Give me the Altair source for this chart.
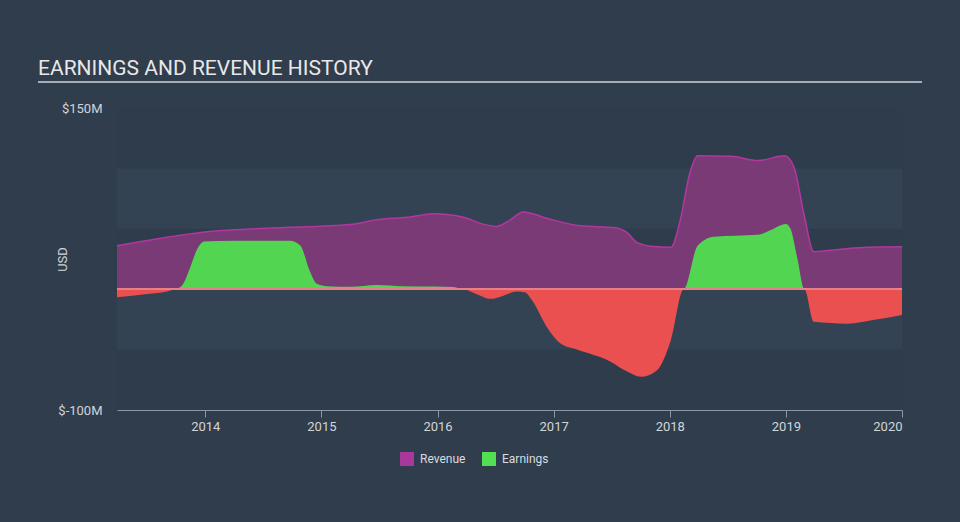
import altair as alt
import pandas as pd

# ---- data ----
title_text = "EARNINGS AND REVENUE HISTORY"
series = ["Revenue", "Earnings"]

rev_years = [2013.24, 2013.67, 2013.96, 2014.53, 2015.25, 2015.48, 2015.74, 2015.97,
             2016.15, 2016.26, 2016.37, 2016.51, 2016.62, 2016.74, 2016.94, 2017.23,
             2017.52, 2017.63, 2017.72, 2017.86, 2018.01, 2018.09, 2018.17, 2018.24,
             2018.53, 2018.76, 2018.99, 2019.07, 2019.16, 2019.24, 2019.47, 2019.70, 2020.0]
rev_values = [36, 43, 47, 50.5, 53.5, 57.5, 59.5, 62.5,
              61, 58.5, 54.5, 52, 57, 64, 58.7, 52.5,
              51, 47, 38.5, 35.3, 34.7, 57, 95, 110.5,
              110, 106.5, 110.5, 101, 60, 31, 33, 34.8, 35.2]

earn_years = [2013.24, 2013.50, 2013.67, 2013.74, 2013.80, 2013.87, 2013.93, 2013.99,
              2014.10, 2014.73, 2014.82, 2014.90, 2014.96, 2015.05, 2015.25, 2015.48,
              2015.70, 2015.97, 2016.14, 2016.22, 2016.30, 2016.46, 2016.55, 2016.68,
              2016.75, 2016.82, 2016.94, 2017.06, 2017.20, 2017.49, 2017.63, 2017.75,
              2017.89, 2018.01, 2018.12, 2018.24, 2018.38, 2018.76, 2018.87, 2019.00,
              2019.04, 2019.10, 2019.16, 2019.24, 2019.53, 2019.75, 2020.0]
earn_values = [-6.7, -4, -2, 0, 3, 18, 33, 39.5,
               40, 40.2, 36, 15, 4.5, 2.5, 2, 3.5,
               2.5, 2.2, 1.8, 0, -2.5, -8, -6, -2,
               -2.5, -10, -31, -45, -50, -60, -68, -72.5,
               -67, -42, 0, 36, 43.5, 45, 49, 54,
               50, 25, 0, -27, -28.5, -25.5, -21.3]

year_ticks = [2014, 2015, 2016, 2017, 2018, 2019, 2020]
y_ticks = [-100, 150]
band_low = [100, 0, -100]
band_high = [150, 50, -50]

# ---- styling ----
BG = "#303d4c"
LIGHT = "#334354"
DARK = "#2f3c4c"
FONT = "Roboto"
W, H = 785, 302

rev = pd.DataFrame({"year": rev_years, "value": rev_values})
earn = pd.DataFrame({"year": earn_years, "value": earn_values})
earn["pos"] = earn["value"].clip(lower=0)
earn["neg"] = earn["value"].clip(upper=0)
bands = pd.DataFrame({"lo": band_low, "hi": band_high})
legend_df = pd.DataFrame({"series": series, "year": [2016, 2016], "value": [0, 0]})

xs = alt.Scale(domain=[2013.24, 2020.0], nice=False, zero=False)
ys = alt.Scale(domain=[-100, 150], nice=False)

xaxis = alt.Axis(values=year_ticks, format="d", title=None, grid=False,
                 domainColor="#8c98a5", tickColor="#8c98a5", tickSize=7,
                 labelColor="#d0d5da", labelFontSize=13, labelFont=FONT, labelPadding=3,
                 labelFlush=True)
yaxis = alt.Axis(values=y_ticks, labelExpr="'$' + datum.value + 'M'", title="USD",
                 grid=False, domain=False, ticks=False, labelPadding=15,
                 labelColor="#d0d5da", labelFontSize=13, labelFont=FONT,
                 titleColor="#d0d5da", titleFontSize=13, titleFont=FONT,
                 titleFontWeight="normal", titleX=-55, titleY=151,
                 titleAlign="center", titleBaseline="middle", titleAngle=270)


def X(f):
    return alt.X(f, scale=xs, axis=xaxis)


def Y(f):
    return alt.Y(f, scale=ys, axis=yaxis)


band_layer = alt.Chart(bands).mark_rect(color=DARK).encode(
    x=alt.value(0), x2=alt.value(W), y=Y("lo:Q"), y2="hi:Q")

rev_area = alt.Chart(rev).mark_area(interpolate="monotone", color="#7a3a76").encode(
    x=X("year:Q"), y=Y("value:Q"))
rev_line = alt.Chart(rev).mark_line(interpolate="monotone", color="#b2379f",
                                    strokeWidth=1.5).encode(x=X("year:Q"), y=Y("value:Q"))

earn_pos = alt.Chart(earn).mark_area(interpolate="monotone", color="#52d652").encode(
    x=X("year:Q"), y=Y("pos:Q"))
earn_neg = alt.Chart(earn).mark_area(interpolate="monotone", color="#eb5050").encode(
    x=X("year:Q"), y=Y("neg:Q"))

zero_rule = alt.Chart(earn).mark_rule(color="#e8808a", strokeWidth=1.5).encode(
    y=alt.datum(0))

legend_layer = alt.Chart(legend_df).mark_square(size=0, opacity=1).encode(
    x=X("year:Q"), y=Y("value:Q"),
    color=alt.Color("series:N",
                    scale=alt.Scale(domain=series, range=["#a8389a", "#52e052"]),
                    legend=alt.Legend(title=None, orient="none", legendX=283, legendY=344,
                                      direction="horizontal", symbolType="square",
                                      symbolSize=196, symbolOpacity=1, symbolStrokeWidth=0,
                                      labelColor="#d8dce0", labelFontSize=12, labelFont=FONT,
                                      columnPadding=16, labelOffset=6)))

title_layer = alt.Chart(pd.DataFrame({"t": [title_text]})).mark_text(
    align="left", baseline="alphabetic", fontSize=21, font=FONT, color="#e8e8e8"
).encode(text="t:N", x=alt.value(-79), y=alt.value(-33))

underline = alt.Chart(pd.DataFrame({"a": [0]})).mark_rule(
    color="#a7adb5", strokeWidth=2).encode(
    x=alt.value(-79), x2=alt.value(805), y=alt.value(-26))

chart = alt.layer(
    band_layer, rev_area, rev_line, earn_pos, earn_neg, zero_rule,
    legend_layer, title_layer, underline
).properties(
    width=W, height=H, autosize="none",
    padding={"left": 117, "top": 108, "right": 58, "bottom": 112}
).configure(background=BG).configure_view(stroke=None, fill=LIGHT)

chart.save("out.html", embed_options={"renderer": "svg", "actions": False})
